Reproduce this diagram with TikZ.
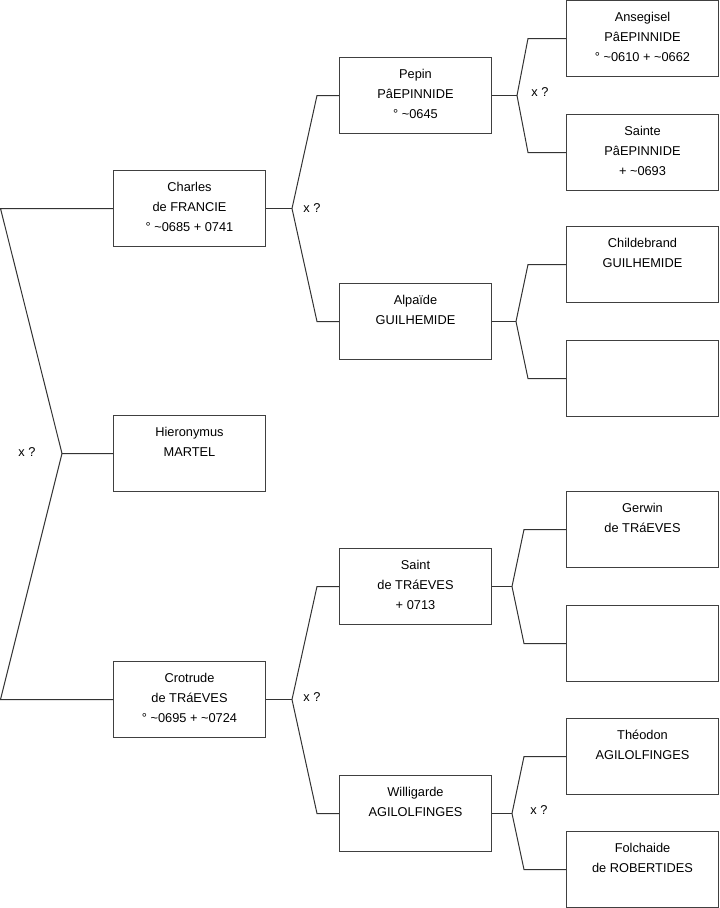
\documentclass[tikz,border=0pt]{standalone}
\usepackage{fontspec}
\setmainfont{Liberation Sans}
\begin{document}
\begin{tikzpicture}[x=0.75pt,y=-0.75pt,
  person/.style={draw=black!75,line width=0.75pt,rectangle,minimum width=114pt,minimum height=57pt,inner sep=0pt},
  txt/.style={anchor=north,inner sep=0pt,align=center,font=\fontsize{9.6}{15}\selectfont},
  lbl/.style={inner sep=0pt,font=\fontsize{9.6}{12}\selectfont},
  conn/.style={draw=black!80,line width=0.75pt}]
\useasboundingbox (0,0) rectangle (719,908);
% level 1
\node[person] (charles) at (189.5,208.5) {};
\node[person] (hier) at (189.5,453.5) {};
\node[person] (crot) at (189.5,699.5) {};
% level 2
\node[person] (pepin) at (415.5,95.5) {};
\node[person] (alpaide) at (415.5,321.5) {};
\node[person] (saint) at (415.5,586.5) {};
\node[person] (willi) at (415.5,813.5) {};
% level 3
\node[person] (anseg) at (642.5,38.5) {};
\node[person] (sainte) at (642.5,152.5) {};
\node[person] (childe) at (642.5,264.5) {};
\node[person] (emptyA) at (642.5,378.5) {};
\node[person] (gerwin) at (642.5,529.5) {};
\node[person] (emptyB) at (642.5,643.5) {};
\node[person] (theod) at (642.5,756.5) {};
\node[person] (folch) at (642.5,869.5) {};
% texts
\node[txt] (charlesT) at ([yshift=-9pt]charles.north) {Charles\\de FRANCIE\\° \textasciitilde0685 + 0741};
\node[txt] (hierT) at ([yshift=-9pt]hier.north) {Hieronymus\\MARTEL};
\node[txt] (crotT) at ([yshift=-9pt]crot.north) {Crotrude\\de TRáEVES\\° \textasciitilde0695 + \textasciitilde0724};
\node[txt] (pepinT) at ([yshift=-9pt]pepin.north) {Pepin\\PâEPINNIDE\\° \textasciitilde0645};
\node[txt] (alpaideT) at ([yshift=-9pt]alpaide.north) {Alpaïde\\GUILHEMIDE};
\node[txt] (saintT) at ([yshift=-9pt]saint.north) {Saint\\de TRáEVES\\+ 0713};
\node[txt] (williT) at ([yshift=-9pt]willi.north) {Willigarde\\AGILOLFINGES};
\node[txt] (ansegT) at ([yshift=-9pt]anseg.north) {Ansegisel\\PâEPINNIDE\\° \textasciitilde0610 + \textasciitilde0662};
\node[txt] (sainteT) at ([yshift=-9pt]sainte.north) {Sainte\\PâEPINNIDE\\+ \textasciitilde0693};
\node[txt] (childeT) at ([yshift=-9pt]childe.north) {Childebrand\\GUILHEMIDE};
\node[txt] (gerwinT) at ([yshift=-9pt]gerwin.north) {Gerwin\\de TRáEVES};
\node[txt] (theodT) at ([yshift=-9pt]theod.north) {Théodon\\AGILOLFINGES};
\node[txt] (folchT) at ([yshift=-9pt]folch.north) {Folchaide\\de ROBERTIDES};
% connectors level 0-1
\coordinate (root) at (62,453.5);
\draw[conn] (charles.west) -- (charles.west -| 0.5,0) coordinate (ra) -- (root) -- (hier.west);
\draw[conn] (root) -- (crot.west -| 0.5,0) -- (crot.west);
\node[lbl] (x0) at (27,452) {x ?};
% Charles
\draw[conn] (charles.east) -- ++(26,0) coordinate (bc);
\draw[conn] (pepin.west) -- ++(-22,0) coordinate (pc) -- (bc) -- (alpaide.west -| pc) -- (alpaide.west);
\node[lbl] (x1) at (312,208) {x ?};
% Pepin
\draw[conn] (pepin.east) -- ++(25,0) coordinate (bp);
\draw[conn] (anseg.west) -- ++(-38,0) coordinate (ac) -- (bp) -- (sainte.west -| ac) -- (sainte.west);
\node[lbl] (x2) at (540,92) {x ?};
% Alpaide
\draw[conn] (alpaide.east) -- ++(24,0) coordinate (ba);
\draw[conn] (childe.west) -- ++(-38,0) coordinate (cc) -- (ba) -- (emptyA.west -| cc) -- (emptyA.west);
% Crotrude
\draw[conn] (crot.east) -- ++(26,0) coordinate (bcr);
\draw[conn] (saint.west) -- ++(-22,0) coordinate (sc) -- (bcr) -- (willi.west -| sc) -- (willi.west);
\node[lbl] (x3) at (312,697) {x ?};
% Saint
\draw[conn] (saint.east) -- ++(20,0) coordinate (bs);
\draw[conn] (gerwin.west) -- ++(-42,0) coordinate (gc) -- (bs) -- (emptyB.west -| gc) -- (emptyB.west);
% Willigarde
\draw[conn] (willi.east) -- ++(20,0) coordinate (bw);
\draw[conn] (theod.west) -- ++(-42,0) coordinate (tc) -- (bw) -- (folch.west -| tc) -- (folch.west);
\node[lbl] (x4) at (539,810) {x ?};
\end{tikzpicture}
\end{document}
